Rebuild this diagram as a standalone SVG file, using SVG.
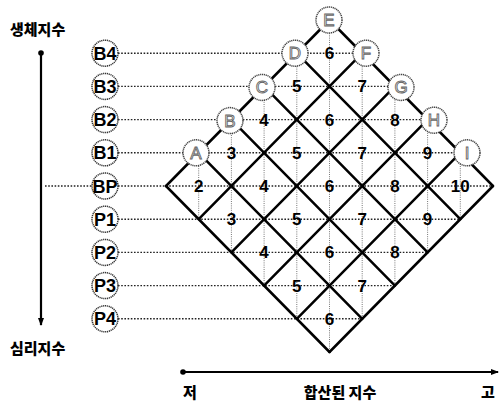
<svg xmlns="http://www.w3.org/2000/svg" width="500" height="401" viewBox="0 0 500 401">
<defs>
<marker id="arr" markerWidth="8" markerHeight="8" refX="7" refY="4" orient="auto" markerUnits="userSpaceOnUse">
<path d="M0,1 L8,4 L0,7 Z" fill="#000"/>
</marker>
<style>
.grid{stroke:#000;stroke-width:2.5;fill:none;stroke-linecap:round}
.dh{stroke:#222;stroke-width:1.4;stroke-dasharray:1.6 1.6;fill:none}
.dv{stroke:#777;stroke-width:1;stroke-dasharray:1 1.2;fill:none}
.axis{stroke:#000;stroke-width:2.2;fill:none}
.lc{fill:#fff;stroke:#333;stroke-width:1.5;stroke-dasharray:1.2 0.7}
.lt{font-family:'Liberation Sans',Arial,sans-serif;font-weight:bold;font-size:18px;fill:#000;text-anchor:middle}
.gc{fill:#fff;stroke:#444;stroke-width:1.5;stroke-dasharray:1.2 0.7}
.gt{font-family:'Liberation Sans',Arial,sans-serif;font-size:17px;fill:#fff;stroke:#666;stroke-width:0.9;text-anchor:middle}
.num{font-family:'Liberation Sans',Arial,sans-serif;font-weight:bold;font-size:17px;fill:#000;text-anchor:middle}
.kt{font-family:'Noto Sans CJK KR',sans-serif;font-weight:900;font-size:15px;fill:#000}
</style>
</defs>

<g id="connectors">
<line class="dh" x1="45" y1="186" x2="92" y2="186"/>
<line class="dh" x1="118" y1="53.2" x2="362.2" y2="53.2"/>
<line class="dh" x1="118" y1="86.4" x2="394.9" y2="86.4"/>
<line class="dh" x1="118" y1="119.6" x2="427.6" y2="119.6"/>
<line class="dh" x1="118" y1="152.8" x2="460.3" y2="152.8"/>
<line class="dh" x1="118" y1="186" x2="493" y2="186"/>
<line class="dh" x1="118" y1="219.2" x2="460.3" y2="219.2"/>
<line class="dh" x1="118" y1="252.4" x2="427.6" y2="252.4"/>
<line class="dh" x1="118" y1="285.6" x2="394.9" y2="285.6"/>
<line class="dh" x1="118" y1="318.8" x2="362.2" y2="318.8"/>
<line class="dv" x1="198.7" y1="152.8" x2="198.7" y2="219.2"/>
<line class="dv" x1="231.4" y1="119.6" x2="231.4" y2="252.4"/>
<line class="dv" x1="264.1" y1="86.4" x2="264.1" y2="285.6"/>
<line class="dv" x1="296.8" y1="53.2" x2="296.8" y2="318.8"/>
<line class="dv" x1="329.5" y1="20" x2="329.5" y2="352"/>
<line class="dv" x1="362.2" y1="53.2" x2="362.2" y2="318.8"/>
<line class="dv" x1="394.9" y1="86.4" x2="394.9" y2="285.6"/>
<line class="dv" x1="427.6" y1="119.6" x2="427.6" y2="252.4"/>
<line class="dv" x1="460.3" y1="152.8" x2="460.3" y2="219.2"/>
<line class="grid" x1="166" y1="186" x2="329.5" y2="352"/>
<line class="grid" x1="198.7" y1="152.8" x2="362.2" y2="318.8"/>
<line class="grid" x1="231.4" y1="119.6" x2="394.9" y2="285.6"/>
<line class="grid" x1="264.1" y1="86.4" x2="427.6" y2="252.4"/>
<line class="grid" x1="296.8" y1="53.2" x2="460.3" y2="219.2"/>
<line class="grid" x1="329.5" y1="20" x2="493" y2="186"/>
<line class="grid" x1="166" y1="186" x2="329.5" y2="20"/>
<line class="grid" x1="198.7" y1="219.2" x2="362.2" y2="53.2"/>
<line class="grid" x1="231.4" y1="252.4" x2="394.9" y2="86.4"/>
<line class="grid" x1="264.1" y1="285.6" x2="427.6" y2="119.6"/>
<line class="grid" x1="296.8" y1="318.8" x2="460.3" y2="152.8"/>
<line class="grid" x1="329.5" y1="352" x2="493" y2="186"/>
<line class="axis" x1="41" y1="53" x2="41" y2="325" marker-end="url(#arr)"/>
<circle cx="41" cy="53" r="2.8" fill="#000"/>
<line class="axis" x1="183" y1="372" x2="498" y2="372" marker-end="url(#arr)"/>
<circle cx="183" cy="372" r="2.8" fill="#000"/>
</g>

<g id="numbers">
<text class="num" x="198.7" y="192">2</text>
<text class="num" x="264.1" y="192">4</text>
<text class="num" x="329.5" y="192">6</text>
<text class="num" x="394.9" y="192">8</text>
<text class="num" x="460.3" y="192">10</text>
<text class="num" x="231.4" y="158.8">3</text>
<text class="num" x="296.8" y="158.8">5</text>
<text class="num" x="362.2" y="158.8">7</text>
<text class="num" x="427.6" y="158.8">9</text>
<text class="num" x="264.1" y="125.6">4</text>
<text class="num" x="329.5" y="125.6">6</text>
<text class="num" x="394.9" y="125.6">8</text>
<text class="num" x="296.8" y="92.4">5</text>
<text class="num" x="362.2" y="92.4">7</text>
<text class="num" x="329.5" y="59.2">6</text>
<text class="num" x="231.4" y="225.2">3</text>
<text class="num" x="296.8" y="225.2">5</text>
<text class="num" x="362.2" y="225.2">7</text>
<text class="num" x="427.6" y="225.2">9</text>
<text class="num" x="264.1" y="258.4">4</text>
<text class="num" x="329.5" y="258.4">6</text>
<text class="num" x="394.9" y="258.4">8</text>
<text class="num" x="296.8" y="291.6">5</text>
<text class="num" x="362.2" y="291.6">7</text>
<text class="num" x="329.5" y="324.8">6</text>
</g>

<g id="node-A"><circle class="gc" cx="196" cy="152.8" r="13"/><text class="gt" x="196" y="158.8">A</text></g>
<g id="node-B"><circle class="gc" cx="230" cy="120.6" r="13"/><text class="gt" x="230" y="126.6">B</text></g>
<g id="node-C"><circle class="gc" cx="262" cy="87.4" r="13"/><text class="gt" x="262" y="93.4">C</text></g>
<g id="node-D"><circle class="gc" cx="295" cy="53.2" r="13"/><text class="gt" x="295" y="59.2">D</text></g>
<g id="node-E"><circle class="gc" cx="329" cy="20" r="13"/><text class="gt" x="329" y="26">E</text></g>
<g id="node-F"><circle class="gc" cx="366" cy="53.2" r="13"/><text class="gt" x="366" y="59.2">F</text></g>
<g id="node-G"><circle class="gc" cx="401" cy="87.4" r="13"/><text class="gt" x="401" y="93.4">G</text></g>
<g id="node-H"><circle class="gc" cx="434" cy="120.2" r="13"/><text class="gt" x="434" y="126.2">H</text></g>
<g id="node-I"><circle class="gc" cx="467" cy="152.8" r="13"/><text class="gt" x="467" y="158.8">I</text></g>

<g id="label-B4"><circle class="lc" cx="105" cy="53.2" r="13"/><text class="lt" x="105" y="59.7">B4</text></g>
<g id="label-B3"><circle class="lc" cx="105" cy="86.4" r="13"/><text class="lt" x="105" y="92.9">B3</text></g>
<g id="label-B2"><circle class="lc" cx="105" cy="119.6" r="13"/><text class="lt" x="105" y="126.1">B2</text></g>
<g id="label-B1"><circle class="lc" cx="105" cy="152.8" r="13"/><text class="lt" x="105" y="159.3">B1</text></g>
<g id="label-BP"><circle class="lc" cx="105" cy="186" r="13"/><text class="lt" x="105" y="192.5">BP</text></g>
<g id="label-P1"><circle class="lc" cx="105" cy="219.2" r="13"/><text class="lt" x="105" y="225.7">P1</text></g>
<g id="label-P2"><circle class="lc" cx="105" cy="252.4" r="13"/><text class="lt" x="105" y="258.9">P2</text></g>
<g id="label-P3"><circle class="lc" cx="105" cy="285.6" r="13"/><text class="lt" x="105" y="292.1">P3</text></g>
<g id="label-P4"><circle class="lc" cx="105" cy="318.8" r="13"/><text class="lt" x="105" y="325.3">P4</text></g>

<g id="axis-labels">
<text class="kt" x="10" y="35">생체지수</text>
<text class="kt" x="10" y="354">심리지수</text>
<text class="kt" x="190" y="398" text-anchor="middle">저</text>
<text class="kt" x="340" y="398" text-anchor="middle">합산된 지수</text>
<text class="kt" x="488" y="398" text-anchor="middle">고</text>
</g>
</svg>
